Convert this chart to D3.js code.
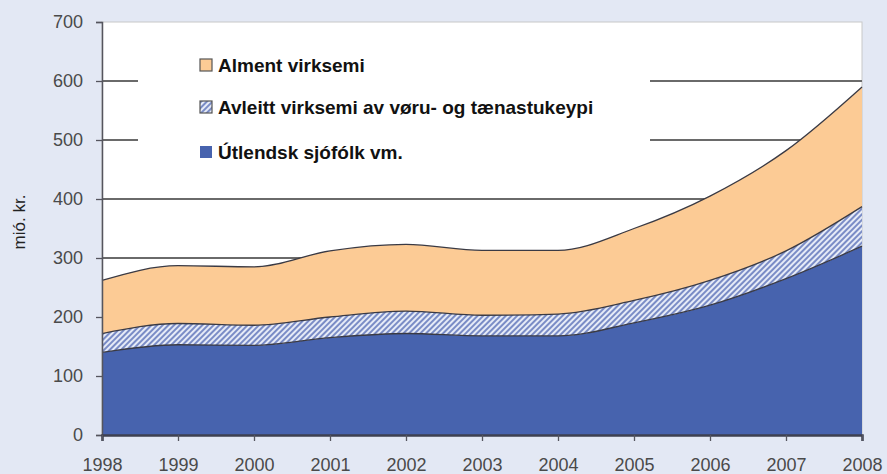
<!DOCTYPE html>
<html>
<head>
<meta charset="utf-8">
<script src="https://cdn.jsdelivr.net/npm/d3@7"></script>
<style>
  body { margin: 0; background: #e3e8f4; }
  svg { display: block; }
</style>
</head>
<body>
<svg id="chart" width="887" height="474"></svg>
<script>
// data (mió. kr.)
var years = [1998, 1999, 2000, 2001, 2002, 2003, 2004, 2005, 2006, 2007, 2008];
var utlendsk = [140, 153, 152, 165, 172, 168, 168, 190, 220, 265, 320];
var avleitt = [32, 36, 34, 35, 38, 35, 37, 38, 42, 47, 67];
var alment = [90, 98, 99, 112, 113, 110, 108, 122, 143, 170, 203];
var seriesNames = ["Alment virksemi", "Avleitt virksemi av vøru- og tænastukeypi", "Útlendsk sjófólk vm."];
var yTicks = [0, 100, 200, 300, 400, 500, 600, 700];
var gridTicks = [100, 200, 300, 400, 500, 600];

var svg = d3.select("#chart"),
  width = +svg.attr("width"),
  height = +svg.attr("height");

var margin = {top: 22, right: 25, bottom: 39, left: 102};

var x = d3.scaleLinear()
  .domain([1998, 2008])
  .range([margin.left, width - margin.right]);

var y = d3.scaleLinear()
  .domain([0, 700])
  .range([height - margin.bottom, margin.top]);

var rows = years.map(function(yr, i) {
  return {year: yr, utl: utlendsk[i], avl: avleitt[i], alm: alment[i]};
});

var stack = d3.stack().keys(["utl", "avl", "alm"]);
var layers = stack(rows);

var defs = svg.append("defs");
var pat = defs.append("pattern")
  .attr("id", "hatch")
  .attr("patternUnits", "userSpaceOnUse")
  .attr("width", 4)
  .attr("height", 4)
  .attr("patternTransform", "rotate(45)");
pat.append("rect").attr("width", 4).attr("height", 4).attr("fill", "#e6ebf7");
pat.append("rect").attr("width", 2).attr("height", 4).attr("fill", "#7a8cc6");

// plot area
svg.append("rect")
  .attr("x", x(1998))
  .attr("y", y(700))
  .attr("width", x(2008) - x(1998))
  .attr("height", y(0) - y(700))
  .attr("fill", "#fff")
  .attr("stroke", "#c8c8c8")
  .attr("stroke-width", 1);

// gridlines (behind the areas)
svg.append("g")
  .selectAll("line")
  .data(gridTicks)
  .enter().append("line")
  .attr("x1", x(1998))
  .attr("x2", x(2008))
  .attr("y1", function(d) { return y(d); })
  .attr("y2", function(d) { return y(d); })
  .attr("stroke", "#6a6a6a")
  .attr("stroke-width", 2);

// legend box hides part of the gridlines
svg.append("rect")
  .attr("x", 138)
  .attr("y", 38)
  .attr("width", 512)
  .attr("height", 134)
  .attr("fill", "#fff");

var fills = ["#4763ae", "url(#hatch)", "#fccb95"];

var area = d3.area()
  .curve(d3.curveMonotoneX)
  .x(function(d) { return x(d.data.year); })
  .y0(function(d) { return y(d[0]); })
  .y1(function(d) { return y(d[1]); });

var topLine = d3.line()
  .curve(d3.curveMonotoneX)
  .x(function(d) { return x(d.data.year); })
  .y(function(d) { return y(d[1]); });

svg.append("g")
  .selectAll("path")
  .data(layers)
  .enter().append("path")
  .attr("d", area)
  .attr("fill", function(d, i) { return fills[i]; });

svg.append("g")
  .selectAll("path")
  .data(layers)
  .enter().append("path")
  .attr("d", topLine)
  .attr("fill", "none")
  .attr("stroke", "#3a3a44")
  .attr("stroke-width", 1.3);

// axes
var yAxis = svg.append("g")
  .attr("transform", "translate(" + x(1998) + ",0)")
  .call(d3.axisLeft(y).tickValues(yTicks).tickSize(6).tickPadding(13).tickFormat(d3.format("d")));

var xAxis = svg.append("g")
  .attr("transform", "translate(0," + y(0) + ")")
  .call(d3.axisBottom(x).tickValues(years).tickSize(6).tickPadding(17).tickFormat(d3.format("d")));

[yAxis, xAxis].forEach(function(a) {
  a.select(".domain").attr("stroke", "#55555e").attr("stroke-width", 1.5);
  a.selectAll(".tick line").attr("stroke", "#55555e").attr("stroke-width", 1.3);
  a.selectAll("text")
    .attr("fill", "#4a4a4a")
    .attr("font-family", "Liberation Sans, Arial, sans-serif")
    .attr("font-size", 18);
});
xAxis.select(".domain").attr("stroke-width", 2.5).attr("stroke", "#3e4050");

svg.append("text")
  .attr("transform", "translate(25,222) rotate(-90)")
  .attr("text-anchor", "middle")
  .attr("font-family", "Liberation Sans, Arial, sans-serif")
  .attr("font-size", 17)
  .attr("fill", "#222")
  .text("mió. kr.");

// legend
var legendFills = ["#fccb95", "url(#hatch)", "#4763ae"];
var legendY = [65, 107, 152];
var lg = svg.append("g")
  .selectAll("g")
  .data(seriesNames)
  .enter().append("g")
  .attr("transform", function(d, i) { return "translate(200," + legendY[i] + ")"; });

lg.append("rect")
  .attr("x", 0)
  .attr("y", -6)
  .attr("width", 12)
  .attr("height", 12)
  .attr("fill", function(d, i) { return legendFills[i]; })
  .attr("stroke", function(d, i) { return i === 2 ? "none" : "#555"; })
  .attr("stroke-width", 1.2);

lg.append("text")
  .attr("x", 18)
  .attr("y", 7)
  .attr("font-family", "Liberation Sans, Arial, sans-serif")
  .attr("font-size", 19)
  .attr("font-weight", "bold")
  .attr("fill", "#111")
  .text(function(d) { return d; });
</script>
</body>
</html>
